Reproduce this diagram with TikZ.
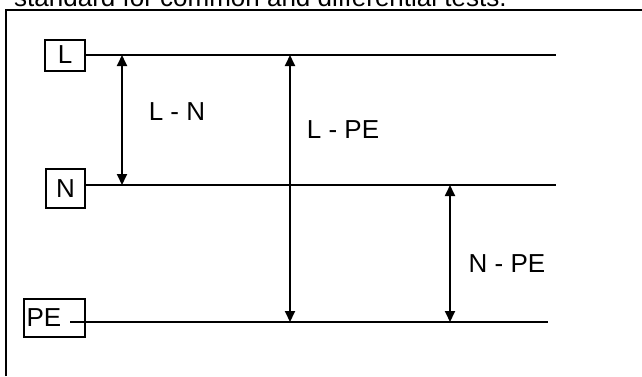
\documentclass[tikz,border=0pt]{standalone}
\usepackage{fontspec}
\setmainfont{Liberation Sans}
\usetikzlibrary{arrows.meta}

\begin{document}
\begin{tikzpicture}[x=1pt,y=-1pt,font=\fontsize{26}{30}\selectfont]
\useasboundingbox (0,0) rectangle (642,376);
\clip (0,0) rectangle (642,376);
\tikzset{term/.style={draw,line width=2pt,inner sep=0pt},
  bus/.style={line width=2.6pt},
  meas/.style={line width=1.8pt,{Triangle[length=11pt,width=10pt]}-{Triangle[length=11pt,width=10pt]}}}
\node[anchor=base west,inner sep=0pt] (caption) at (14,6) {standard for common and differential tests.};
\draw[line width=2.6pt] (6,376) -- (6,10) -- (642,10);
% terminals
\node[term,minimum width=40pt,minimum height=31pt] (L) at (65,55) {L};
\node[term,minimum width=39pt,minimum height=39pt] (N) at (65.5,188.5) {N};
\node[term,minimum width=61pt,minimum height=38pt,text width=56pt] (PE) at (54.5,318) {PE};
% conductors
\coordinate (Lend) at (556,55);
\coordinate (Nend) at (556,185);
\coordinate (PEstart) at (70,322);
\coordinate (PEend) at (548,322);
\draw[bus] (L.east) -- (Lend);
\draw[bus] (N.east |- Nend) -- (Nend);
\draw[bus] (PEstart) -- (PEend);
% measurements
\coordinate (ln1) at (122,55);
\coordinate (ln2) at (122,185);
\coordinate (lpe1) at (290,55);
\coordinate (lpe2) at (290,322);
\coordinate (npe1) at (450,185);
\coordinate (npe2) at (450,322);
\draw[meas] (ln1) -- (ln2);
\draw[meas] (lpe1) -- (lpe2);
\draw[meas] (npe1) -- (npe2);
\node (lnlab) at (177,112) {L - N};
\node (lpelab) at (343,130) {L - PE};
\node (npelab) at (507,264) {N - PE};
\end{tikzpicture}
\end{document}
